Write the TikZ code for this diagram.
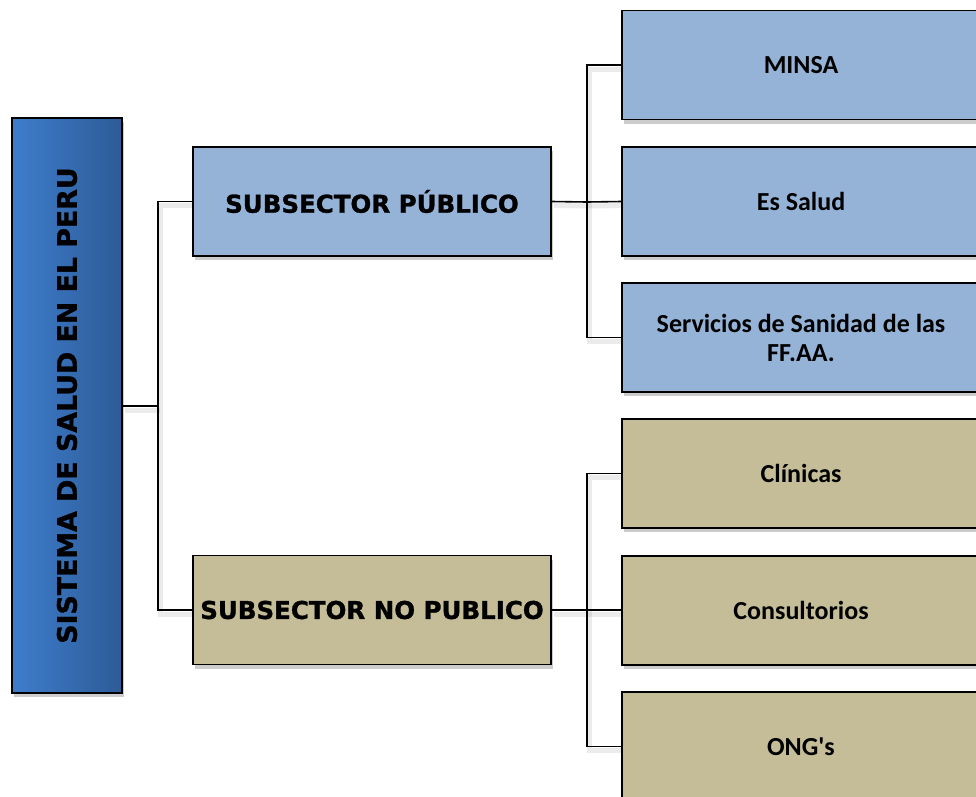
\documentclass[tikz,border=0pt]{standalone}
\usepackage{fontspec}
\newfontfamily\verd{DejaVu Sans}[BoldFeatures={FakeBold=1.2}]
\newfontfamily\calib{Carlito}
\usetikzlibrary{shadows}
\definecolor{lblue}{HTML}{95B3D7}
\definecolor{tanbox}{HTML}{C4BD97}
\definecolor{dblueL}{HTML}{3E7DCC}
\definecolor{dblueR}{HTML}{2D5B97}
\tikzset{
  shad/.style={drop shadow={shadow xshift=2pt, shadow yshift=-4pt, opacity=0.2, fill=black}},
  box/.style={draw=black, line width=1.6pt, minimum width=358pt, minimum height=109pt, inner sep=0pt, shad, align=center},
  right/.style={box, font=\calib\bfseries\fontsize{26}{29}\selectfont},
  sub/.style={box, font=\verd\bfseries\fontsize{24.5}{28}\selectfont},
  pub/.style={fill=lblue},
  priv/.style={fill=tanbox},
  conn/.style={draw=black, line width=1.6pt,
    preaction={draw=black, opacity=0.08, line width=5pt, transform canvas={xshift=2pt, yshift=-4pt}}},
}
\begin{document}
\begin{tikzpicture}[x=1pt, y=-1pt]
\useasboundingbox (0,0) rectangle (976,796);
\clip (0,0) rectangle (976,796);
% connectors
\coordinate (j1) at (158,406);
\coordinate (j2) at (587,202);
\coordinate (j3) at (587,610);
% nodes
\node[draw=black, line width=1.6pt, minimum width=110pt, minimum height=575pt, inner sep=0pt,
      left color=dblueL, right color=dblueR, shad] (root) at (67,405.5) {};
\node[rotate=90, font=\verd\bfseries\fontsize{26.8}{30}\selectfont] (roottext) at (root.center) {SISTEMA DE SALUD EN EL PERU};
\node[sub, pub] (spub) at (372,201.5) {SUBSECTOR PÚBLICO};
\node[sub, priv] (spriv) at (372,610) {SUBSECTOR NO PUBLICO};
\node[right, pub] (minsa) at (801,65) {MINSA};
\node[right, pub] (essalud) at (801,201.5) {Es Salud};
\node[right, pub] (ffaa) at (801,337.5) {Servicios de Sanidad de las\\FF.AA.};
\node[right, priv] (clin) at (801,473.5) {Clínicas};
\node[right, priv] (cons) at (801,610.5) {Consultorios};
\node[right, priv] (ong) at (801,746.5) {ONG's};
% lines
\draw[conn] (root.east |- j1) -- (j1);
\draw[conn] (j1) |- (spub.west);
\draw[conn] (j1) |- (spriv.west);
\draw[conn] (spub.east) -- (j2);
\draw[conn] (j2) |- (minsa.west);
\draw[conn] (j2) -- (essalud.west);
\draw[conn] (j2) |- (ffaa.west);
\draw[conn] (spriv.east |- j3) -- (j3);
\draw[conn] (j3) |- (clin.west);
\draw[conn] (j3) -- (cons.west |- j3);
\draw[conn] (j3) |- (ong.west);
\end{tikzpicture}
\end{document}
